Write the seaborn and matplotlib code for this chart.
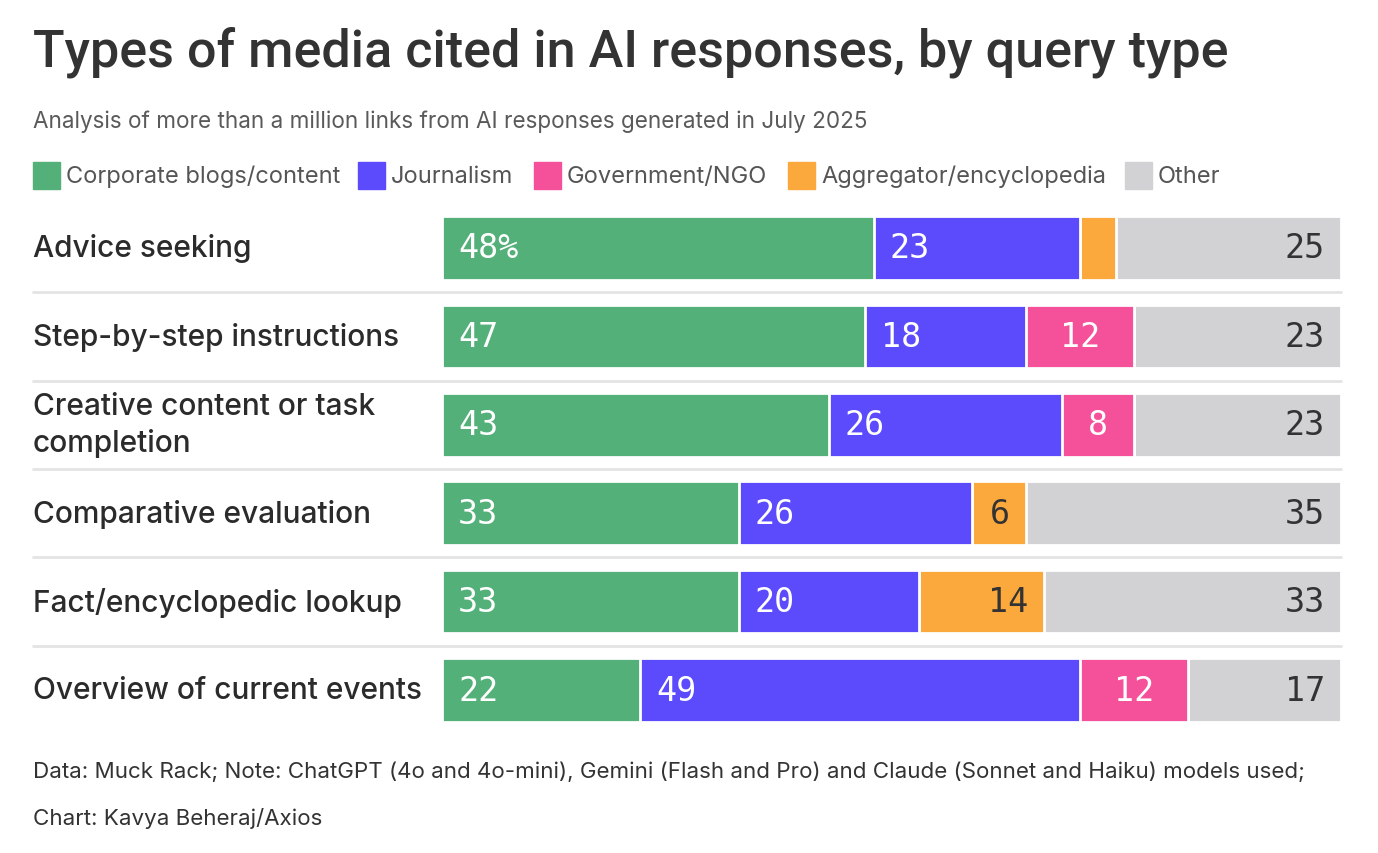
import matplotlib.pyplot as plt
import matplotlib.patches as mpatches
import pandas as pd
import numpy as np
import seaborn as sns

queries = ["Advice seeking", "Step-by-step instructions",
           "Creative content or task\ncompletion", "Comparative evaluation",
           "Fact/encyclopedic lookup", "Overview of current events"]
categories = ["Corporate blogs/content", "Journalism", "Government/NGO",
              "Aggregator/encyclopedia", "Other"]
corporate = [48, 47, 43, 33, 33, 22]
journalism = [23, 18, 26, 26, 20, 49]
government = [0, 12, 8, 0, 0, 12]
aggregator = [4, 0, 0, 6, 14, 0]
other = [25, 23, 23, 35, 33, 17]

colors = ["#52b078", "#5b4bfc", "#f5509a", "#fba83c", "#d2d2d4"]
text_colors = ["white", "white", "white", "#333333", "#333333"]
aligns = ["left", "left", "center", "right", "right"]

sns.set_theme(style="white")
plt.rcParams["font.family"] = ["Inter", "DejaVu Sans"]

df = pd.DataFrame({"query": queries, categories[0]: corporate, categories[1]: journalism,
                   categories[2]: government, categories[3]: aggregator, categories[4]: other})
vals = df[categories].to_numpy()
cum = np.cumsum(vals, axis=1)

fig = plt.figure(figsize=(13.78, 8.54), dpi=100)
ax = fig.add_axes([0.3208, 0.1391, 0.6524, 0.6211])

for i in reversed(range(len(categories))):
    df["_cum"] = cum[:, i]
    sns.barplot(data=df, y="query", x="_cum", orient="h", color=colors[i], saturation=1,
                width=0.72, edgecolor="white", linewidth=2, ax=ax)

ax.set_xlim(0, 100)
ax.set_ylim(5.5, -0.5)
ax.axis("off")

# value labels (slices under 5 points are too thin for a label)
pad = 11.5
for r in range(len(queries)):
    for c in range(len(categories)):
        v = vals[r, c]
        if v < 5:
            continue
        start = cum[r, c] - v
        end = cum[r, c]
        label = f"{v}%" if (r == 0 and c == 0) else str(v)
        if aligns[c] == "left":
            x, dx = start, pad
        elif aligns[c] == "right":
            x, dx = end, -pad
        else:
            x, dx = (start + end) / 2, 0
        ax.annotate(label, (x, r), xytext=(dx, 0), textcoords="offset points",
                    ha=aligns[c], va="center", fontsize=24, color=text_colors[c],
                    family="DejaVu Sans Mono")

# row labels and separators
for r, q in enumerate(queries):
    ax.text(-0.455, r, q, transform=ax.get_yaxis_transform(), ha="left", va="center",
            fontsize=21.5, color="#2b2b2b", linespacing=1.35, fontweight="medium")
for r in range(len(queries) - 1):
    ax.axhline(r + 0.5, xmin=-0.455, xmax=1, color="#e4e4e4", lw=2, clip_on=False)

# title, subtitle
fig.text(0.024, 0.939, "Types of media cited in AI responses, by query type",
         fontsize=37.5, color="#333333", fontweight="medium", ha="left", va="center",
         family=["Roboto", "DejaVu Sans"])
fig.text(0.024, 0.858, "Analysis of more than a million links from AI responses generated in July 2025",
         fontsize=16.2, color="#5a5a5a", ha="left", va="center")

# legend
leg_x = [33, 358, 534, 788, 1125]
for x, cat, col in zip(leg_x, categories, colors):
    fig.patches.append(mpatches.Rectangle((x / 1378, 1 - 190 / 854), 27 / 1378, 27 / 854,
                                          transform=fig.transFigure, color=col))
    fig.text((x + 33) / 1378, 1 - 177 / 854, cat, fontsize=17, color="#555555",
             ha="left", va="center")

# footer
fig.text(0.024, 1 - 772 / 854,
         "Data: Muck Rack; Note: ChatGPT (4o and 4o-mini), Gemini (Flash and Pro) and Claude (Sonnet and Haiku) models used;",
         fontsize=16.1, color="#333333", ha="left", va="center")
fig.text(0.024, 1 - 819 / 854, "Chart: Kavya Beheraj/Axios",
         fontsize=16.1, color="#333333", ha="left", va="center")

fig.savefig("out.png", dpi=100)
